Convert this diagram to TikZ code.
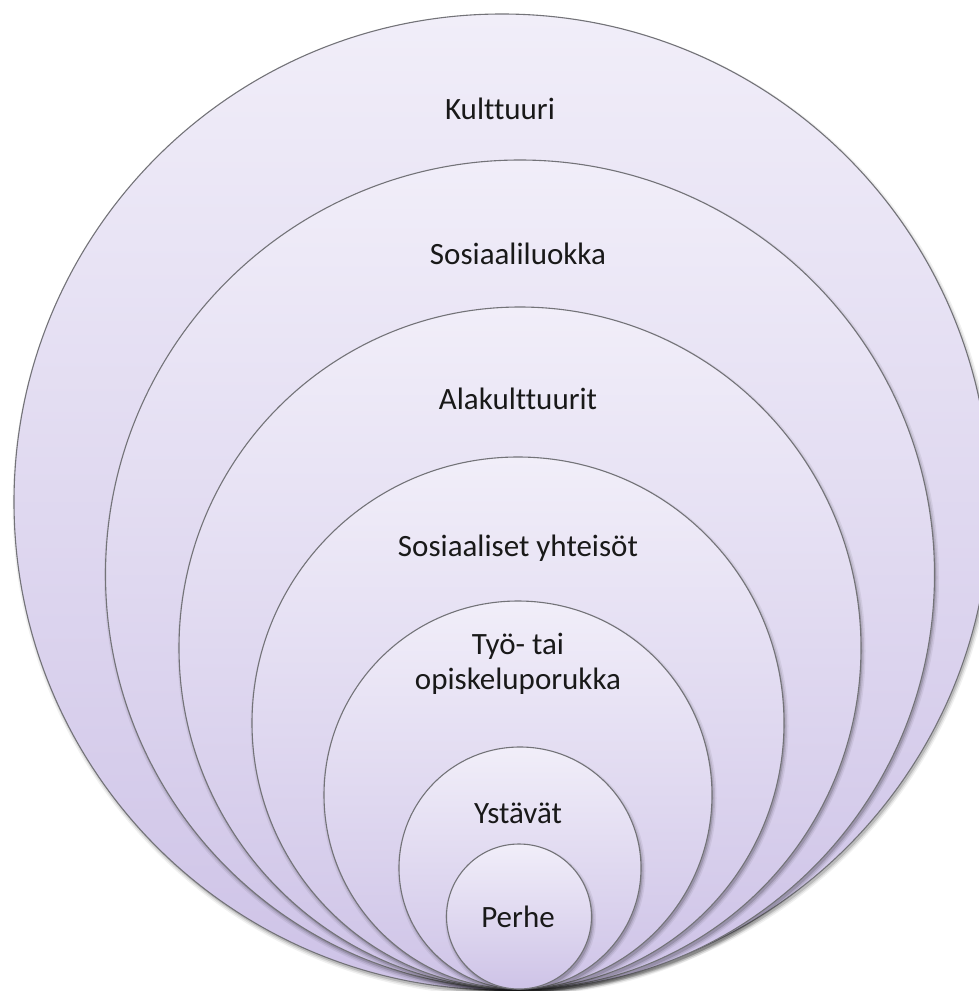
\documentclass[tikz,border=0pt]{standalone}
\usepackage{fontspec}
\setmainfont{Carlito}[Ligatures={NoCommon,NoRequired,NoContextual}]
\definecolor{ctop}{RGB}{241,238,249}
\definecolor{cbot}{RGB}{206,195,231}
\definecolor{edgegray}{RGB}{115,115,120}
\definecolor{txt}{RGB}{25,25,25}
\newcommand\ringlayer[4]{%
  \fill[black,opacity=0.06] (#2+1.5,#3+3) circle[radius=#4pt+3pt];
  \fill[black,opacity=0.09] (#2+1.5,#3+3) circle[radius=#4pt+1.5pt];
  \fill[black,opacity=0.14] (#2+1.5,#3+3) circle[radius=#4pt];
  \node[ring=2*#4pt] (#1) at (#2,#3) {};
}
\begin{document}
\begin{tikzpicture}[x=1pt,y=-1pt,
  ring/.style={circle, draw=edgegray, line width=1.1pt, top color=ctop, bottom color=cbot,
    inner sep=0pt, outer sep=0pt, minimum size=#1},
  lbl/.style={font=\fontsize{31}{35}\selectfont, text=txt, align=center, anchor=base, inner sep=0pt}]
\useasboundingbox (0,0) rectangle (979,991);
\clip (0,0) rectangle (979,991);
\ringlayer{c1}{502}{502}{488}
\ringlayer{c2}{520}{574.5}{414.5}
\ringlayer{c3}{520}{648}{341}
\ringlayer{c4}{518}{723}{266}
\ringlayer{c5}{518}{795}{194}
\ringlayer{c6}{520}{868}{121}
\ringlayer{c7}{519}{916.5}{72.5}
\node[lbl] (t1) at (500,119.5) {Kulttuuri};
\node[lbl] (t2) at (518,264) {Sosiaaliluokka};
\node[lbl] (t3) at (518,409) {Alakulttuurit};
\node[lbl] (t4) at (518,556) {Sosiaaliset yhteisöt};
\node[lbl] (t5) at (518,689) {Työ- tai\\opiskeluporukka};
\node[lbl] (t6) at (518,823) {Ystävät};
\node[lbl] (t7) at (518,927) {Perhe};
\end{tikzpicture}
\end{document}
